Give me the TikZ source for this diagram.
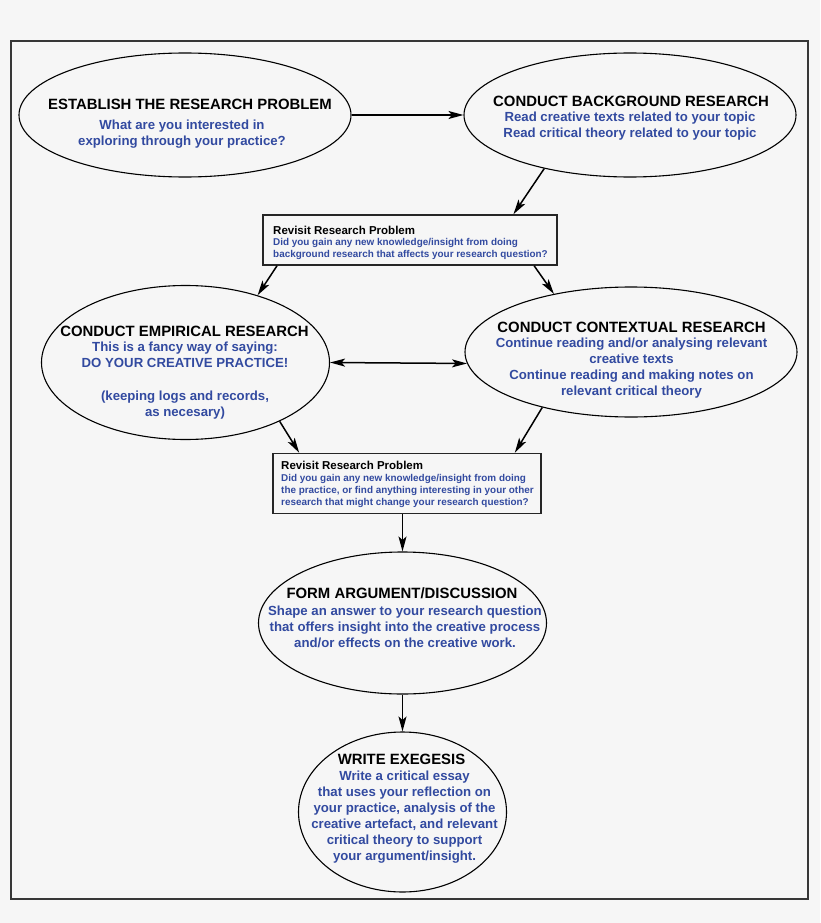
\documentclass[tikz,border=0pt]{standalone}
\usepackage{fontspec}
\setmainfont{Liberation Sans}
\usetikzlibrary{shapes.geometric,arrows.meta,calc}
\definecolor{bgcol}{RGB}{246,246,246}
\definecolor{txtblue}{RGB}{50,74,160}
\definecolor{framecol}{RGB}{55,55,55}
\tikzset{
  oval/.style={ellipse,draw=black,line width=1.1pt,inner sep=0pt},
  stepbox/.style={rectangle,draw=black!85,line width=1.6pt,inner sep=0pt},
  ttl/.style={font=\bfseries\fontsize{14.9}{17}\selectfont,text=black,inner sep=0pt},
  body/.style={font=\bfseries\fontsize{13.2}{16}\selectfont,text=txtblue,align=center,inner sep=0pt},
  bttl/.style={font=\bfseries\fontsize{11.5}{13}\selectfont,text=black,inner sep=0pt,anchor=west},
  bbody/.style={font=\bfseries\fontsize{9.9}{12}\selectfont,text=txtblue,align=left,inner sep=0pt,anchor=west},
  tip/.tip={Stealth[length=15pt,width=8pt,inset=3.5pt]},
  conn/.style={line width=1.5pt,-tip},
  dconn/.style={line width=1.5pt,tip-tip}
}
\begin{document}
\begin{tikzpicture}[x=1pt,y=-1pt]
\fill[bgcol] (0,0) rectangle (820,923);
\useasboundingbox (0,0) rectangle (820,923);
\draw[framecol,line width=2pt] (11,41) rectangle (808,899);

% ellipses
\node[oval,minimum width=332pt,minimum height=124pt] (e1) at (185,115) {};
\node[oval,minimum width=332pt,minimum height=124pt] (e2) at (630,115) {};
\node[oval,minimum width=288pt,minimum height=154pt] (e3) at (185.5,362.5) {};
\node[oval,minimum width=332pt,minimum height=130pt] (e4) at (631,352) {};
\node[oval,minimum width=288pt,minimum height=142pt] (e5) at (402.5,623) {};
\node[oval,minimum width=208pt,minimum height=160pt] (e6) at (402.5,812) {};

% boxes
\node[stepbox,minimum width=294pt,minimum height=50pt] (b1) at (410,240) {};
\node[stepbox,minimum width=268pt,minimum height=60pt] (b2) at (407,483.5) {};

% ellipse texts
\node[ttl] (t1) at (190,104) {ESTABLISH THE RESEARCH PROBLEM};
\node[body] (x1) at (182,134) {What are you interested in\\exploring through your practice?};

\node[ttl] (t2) at (631,101) {CONDUCT BACKGROUND RESEARCH};
\node[body] (x2) at (630,126) {Read creative texts related to your topic\\Read critical theory related to your topic};

\node[ttl] (t3) at (184.5,331) {CONDUCT EMPIRICAL RESEARCH};
\node[body] (x3) at (185,380.5) {This is a fancy way of saying:\\DO YOUR CREATIVE PRACTICE!\\[17pt](keeping logs and records,\\as necesary)};

\node[ttl] (t4) at (631.5,327) {CONDUCT CONTEXTUAL RESEARCH};
\node[body] (x4) at (631.5,368) {Continue reading and/or analysing relevant\\creative texts\\Continue reading and making notes on\\relevant critical theory};

\node[ttl] (t5) at (402,593) {FORM ARGUMENT/DISCUSSION};
\node[body] (x5) at (405,627) {Shape an answer to your research question\\that offers insight into the creative process\\and/or effects on the creative work.};

\node[ttl] (t6) at (401.5,759) {WRITE EXEGESIS};
\node[body] (x6) at (404.5,817) {Write a critical essay\\that uses your reflection on\\your practice, analysis of the\\creative artefact, and relevant\\critical theory to support\\your argument/insight.};

% box texts
\node[bttl] (bt1) at (273,230) {Revisit Research Problem};
\node[bbody] (bx1) at (273,249) {Did you gain any new knowledge/insight from doing\\background research that affects your research question?};
\node[bttl] (bt2) at (281,465) {Revisit Research Problem};
\node[bbody] (bx2) at (281,491) {Did you gain any new knowledge/insight from doing\\the practice, or find anything interesting in your other\\research that might change your research question?};

% connectors
\draw[conn] (e1.east) -- (e2.west);
\draw[conn] (e2.212) -- ($(b1.north west)!0.85!(b1.north east)$);
\draw[conn] ($(b1.south west)!0.05!(b1.south east)$) -- (e3.43);
\draw[conn] ($(b1.south west)!0.92!(b1.south east)$) -- (e4.143);
\draw[dconn] (e3.east) -- (e4.184);
\draw[conn] (e3.328) -- ($(b2.north west)!0.10!(b2.north east)$);
\draw[conn] (e4.212) -- ($(b2.north west)!0.90!(b2.north east)$);
\draw[conn] (b2.south -| e5.north) -- (e5.north);
\draw[conn] (e5.south) -- (e6.north);
\end{tikzpicture}
\end{document}
